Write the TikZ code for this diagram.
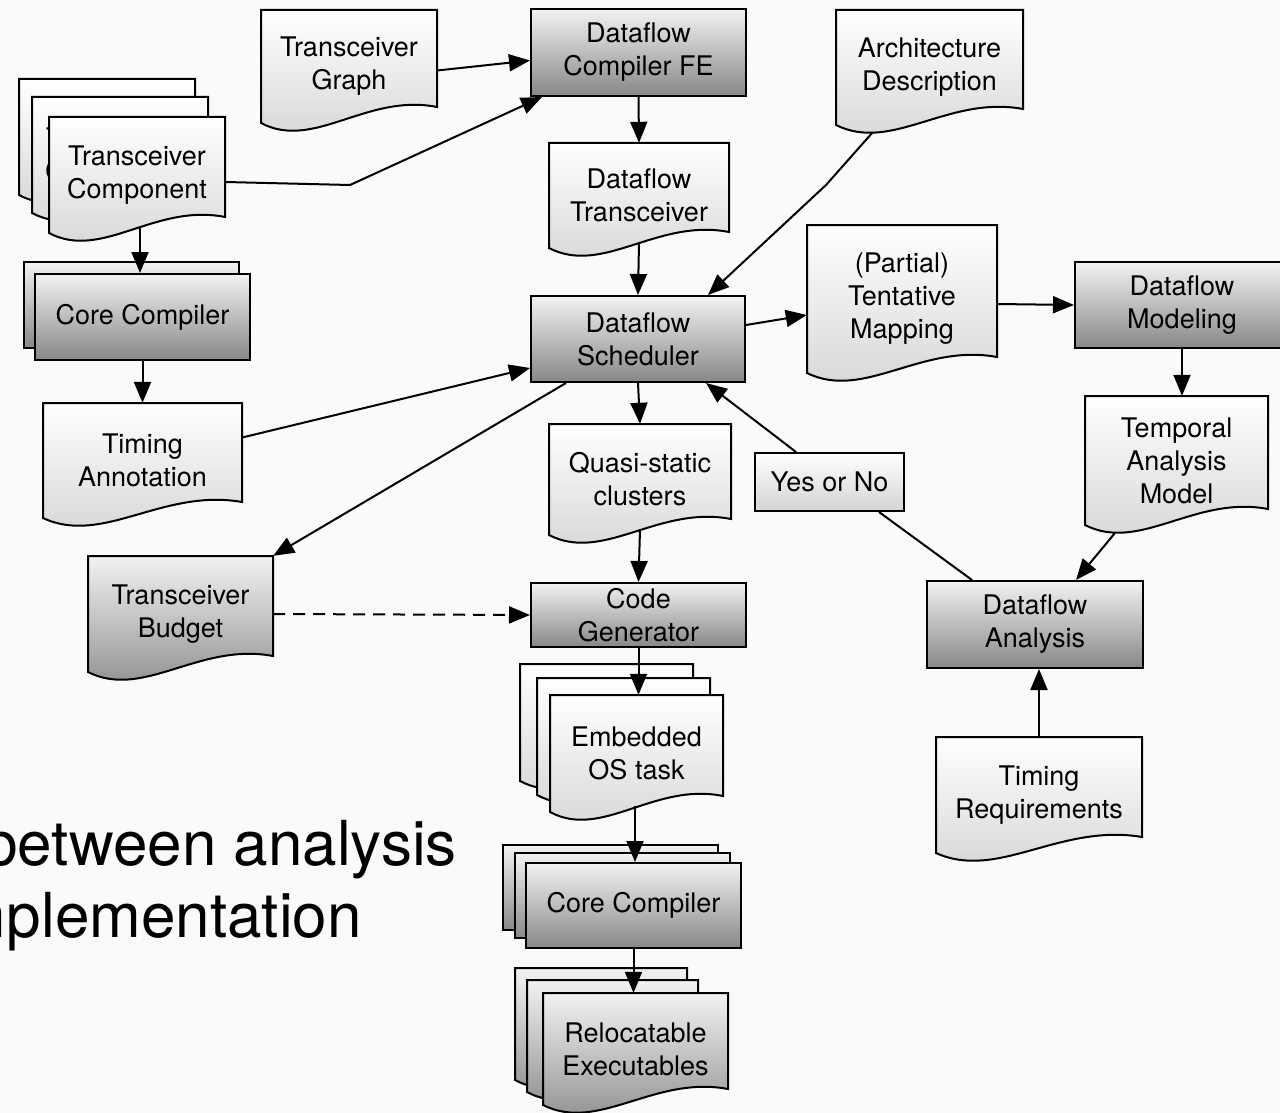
\documentclass[tikz,border=0pt]{standalone}
\usepackage{fontspec}
\setmainfont{TeX Gyre Heros}
\usetikzlibrary{arrows.meta,calc}

\definecolor{bgc}{gray}{0.98}
\definecolor{docTop}{gray}{1.0}
\definecolor{docBot}{gray}{0.83}
\definecolor{procTop}{gray}{0.95}
\definecolor{procBot}{gray}{0.53}

\tikzset{
  lbl/.style={font=\fontsize{27}{33}\selectfont, align=center, inner sep=0pt},
  outline/.style={draw=black, line width=2pt, line join=miter},
  lightfill/.style={top color=docTop, bottom color=docBot},
  darkfill/.style={top color=procTop, bottom color=procBot},
  procbox/.style={lbl, outline, darkfill, rectangle},
  flow/.style={line width=2pt, -{Triangle[length=21pt,width=17pt]}},
  link/.style={line width=2pt},
  dashlink/.style={dash pattern=on 12pt off 8pt},
  slide/.style={font=\fontsize{62}{73}\selectfont, anchor=base east, inner sep=0pt},
}

% document symbol: #1 name, #2 left, #3 top, #4 right, #5 bottom-left corner, #6 fill, #7 text
\newcommand\docshape[7]{%
  \path[outline,#6] (#4,#3) -- (#4,{#5-16})
    .. controls ({#2+0.6*(#4-#2)},{#5-30}) and ({#2+0.3*(#4-#2)},{#5+28}) .. (#2,#5)
    -- (#2,#3) -- cycle;
  \node[lbl, minimum width={(#4-#2)*1pt}, minimum height={(#5-#3)*1pt}]
    (#1) at ({(#2+#4)/2},{(#3+#5)/2}) {#7};
}
% process box: #1 name, #2 left, #3 top, #4 right, #5 bottom, #6 text
\newcommand\procnode[6]{%
  \node[procbox, minimum width={(#4-#2)*1pt}, minimum height={(#5-#3)*1pt}]
    (#1) at ({(#2+#4)/2},{(#3+#5)/2}) {#6};
}

\begin{document}
\begin{tikzpicture}[x=1pt,y=-1pt]
\fill[bgc] (0,0) rectangle (1280,1113);
\useasboundingbox (0,0) rectangle (1280,1113);

% slide text behind the flow
\begin{scope}
  \clip (0,0) rectangle (1280,1113);
  \node[slide] (s1) at (457,865) {between analysis};
  \node[slide] (s2) at (362,937) {implementation};
\end{scope}

% top row
\docshape{tg}{261}{10}{437}{123}{lightfill}{Transceiver\\Graph}
\procnode{fe}{531}{9}{746}{96}{Dataflow\\Compiler FE}
\docshape{ad}{836}{10}{1023}{125}{lightfill}{Architecture\\Description}

% transceiver components (stack); the middle sheet's label peeks out on the left
\docshape{tcc}{19}{79}{195}{195}{lightfill}{}
\docshape{tcb}{32}{97}{208}{213}{lightfill}{}
\node[lbl] (tcbtxt) at (115,157) {Transceiver\\Component};
\docshape{tc}{49}{117}{225}{233}{lightfill}{Transceiver\\Component}

% core compilers (stack)
\procnode{cca}{24}{262}{239}{348}{}
\procnode{cc}{35}{274}{250}{360}{Core Compiler}

\docshape{dt}{549}{143}{729}{248}{lightfill}{Dataflow\\Transceiver}
\procnode{ds}{531}{296}{745}{382}{Dataflow\\Scheduler}
\docshape{tm}{807}{225}{997}{373}{lightfill}{(Partial)\\Tentative\\Mapping}
\procnode{dm}{1075}{262}{1289}{348}{Dataflow\\Modeling}

\docshape{ta}{43}{403}{242}{518}{lightfill}{Timing\\Annotation}
\docshape{qs}{549}{424}{731}{535}{lightfill}{Quasi-static\\clusters}
\node[lbl, outline, lightfill, minimum width=149pt, minimum height=58pt] (yn) at (829.5,482) {Yes or No};
\docshape{tam}{1085}{396}{1268}{525}{lightfill}{Temporal\\Analysis\\Model}

\docshape{tb}{88}{556}{273}{672}{darkfill}{Transceiver\\Budget}
\procnode{cg}{531}{583}{746}{647}{Code\\Generator}
\procnode{da}{927}{581}{1143}{668}{Dataflow\\Analysis}

% embedded OS tasks (stack)
\docshape{eoc}{520}{664}{693}{781}{lightfill}{}
\docshape{eob}{537}{678}{710}{795}{lightfill}{}
\docshape{eo}{550}{695}{723}{812}{lightfill}{Embedded\\OS task}

\docshape{tr}{936}{737}{1142}{853}{lightfill}{Timing\\Requirements}

% core compilers (stack)
\procnode{cc2c}{503}{845}{718}{930}{}
\procnode{cc2b}{515}{853}{730}{938}{}
\procnode{cc2}{526}{863}{741}{948}{Core Compiler}

% relocatable executables (stack)
\docshape{rec}{515}{968}{687}{1080}{darkfill}{}
\docshape{reb}{527}{980}{698}{1092}{darkfill}{}
\docshape{re}{543}{993}{728}{1105}{darkfill}{Relocatable\\Executables}

% bend points
\coordinate (bendA) at (350,185);
\coordinate (bendB) at (826,185);

% connectors
\draw[flow] ([yshift=-4pt]tg.east) -- ([yshift=-8pt]fe.west);
\draw[flow] ([yshift=-7pt]tc.east) -- (bendA) -- ([xshift=12pt]fe.south west);
\draw[flow] (fe.south) -- (dt.north);
\draw[flow] ($(dt.south)+(0,-6)$) -- (ds.north);
\draw[flow] ([xshift=37pt,yshift=-7pt]ad.south west) -- (bendB) -- ([xshift=-38pt]ds.north east);
\draw[flow] ($(tc.south)+(3,-6)$) -- ($(cc.north)+(-2.5,0)$);
\draw[flow] (cc.south) -- (ta.north);
\draw[flow] ([yshift=23pt]ta.east) -- ([yshift=-29pt]ds.west);
\draw[flow] ([yshift=14pt]ds.east) -- ([yshift=-16pt]tm.west);
\draw[flow] ([yshift=-5pt]tm.east) -- (dm.west);
\draw[flow] (dm.south) -- (dm.south |- tam.north);
\draw[flow] ([xshift=30pt,yshift=-8pt]tam.south west) -- ([xshift=41pt]da.north);
\draw[link] ([xshift=46pt]da.north west) -- ([xshift=-26pt]yn.south east);
\draw[flow] ([xshift=42pt]yn.north west) -- ([xshift=-40pt]ds.south east);
\draw[flow] (ds.south) -- (qs.north);
\draw[flow] ([xshift=36pt]ds.south west) -- (tb.north east);
\draw[flow] ($(qs.south)+(0,-6)$) -- (cg.north);
\draw[flow, dashlink] (tb.east) -- (cg.west);
\draw[flow] (cg.south) -- (cg.south |- eo.north);
\draw[flow] ($(eo.south)+(-1.5,-6)$) -- ($(cc2.north)+(1.5,0)$);
\draw[flow] (cc2.south) -- (cc2.south |- re.north);
\draw[flow] (tr.north) -- (tr.north |- da.south);
\end{tikzpicture}
\end{document}
